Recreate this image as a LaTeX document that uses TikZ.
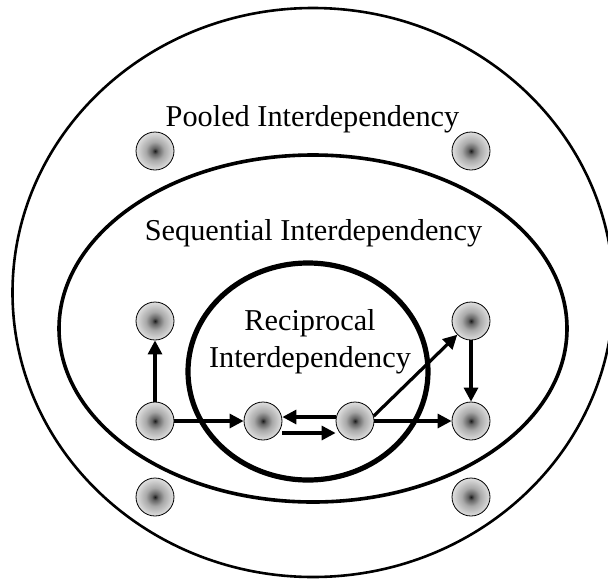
\documentclass[tikz,border=0pt]{standalone}
\usepackage{fontspec}
\setmainfont{Liberation Serif}
\usetikzlibrary{arrows.meta}
\pgfdeclareradialshading{ball}{\pgfpoint{0bp}{0bp}}{color(0bp)=(black!90); color(4bp)=(black!62); color(12bp)=(black!34); color(24bp)=(black!14); color(36bp)=(black!5); color(50bp)=(black!2)}
\tikzset{
  unit/.style={circle, draw=black, line width=0.8pt, minimum size=38pt, inner sep=0pt, shading=ball},
  arr/.style={line width=3.2pt, -{Triangle[length=14pt,width=14pt]}},
  lbl/.style={anchor=base, font=\fontsize{30.3}{37}\selectfont, inner sep=0pt},
}
\begin{document}
\begin{tikzpicture}[x=1pt,y=-1pt]
\useasboundingbox (0,0) rectangle (608,579);
% boundaries
\draw[line width=2.6pt] (313,292.5) ellipse [x radius=300.5, y radius=284.5];
\draw[line width=3.6pt] (313,328.5) ellipse [x radius=254, y radius=173.5];
\draw[line width=5.2pt] (308,371.5) ellipse [x radius=120, y radius=108.5];
% labels
\node[lbl] (pooled) at (312.5,126) {Pooled Interdependency};
\node[lbl] (seq) at (313.5,240) {Sequential Interdependency};
\node[lbl, align=center] (rec) at (310,367) {Reciprocal\\Interdependency};
% units
\node[unit] (p1) at (155,151) {};
\node[unit] (p2) at (471,151) {};
\node[unit] (a1) at (155,321) {};
\node[unit] (a4) at (471,321) {};
\node[unit] (b1) at (155,421) {};
\node[unit] (b2) at (263,421) {};
\node[unit] (b3) at (355,421) {};
\node[unit] (b4) at (471,421) {};
\node[unit] (c1) at (155,497) {};
\node[unit] (c2) at (471,497) {};
% connectors
\draw[arr] (b1) -- (a1);
\draw[arr] (b1) -- (b2);
\draw[arr] ([yshift=4pt]b3.west) -- ([yshift=4pt]b2.east);
\draw[arr] ([yshift=-12pt]b2.east) -- ([yshift=-12pt]b3.west);
\draw[arr] (b3) -- (b4);
\draw[arr] (b3.15) -- (a4.225);
\draw[arr] (a4) -- (b4);
\end{tikzpicture}
\end{document}
